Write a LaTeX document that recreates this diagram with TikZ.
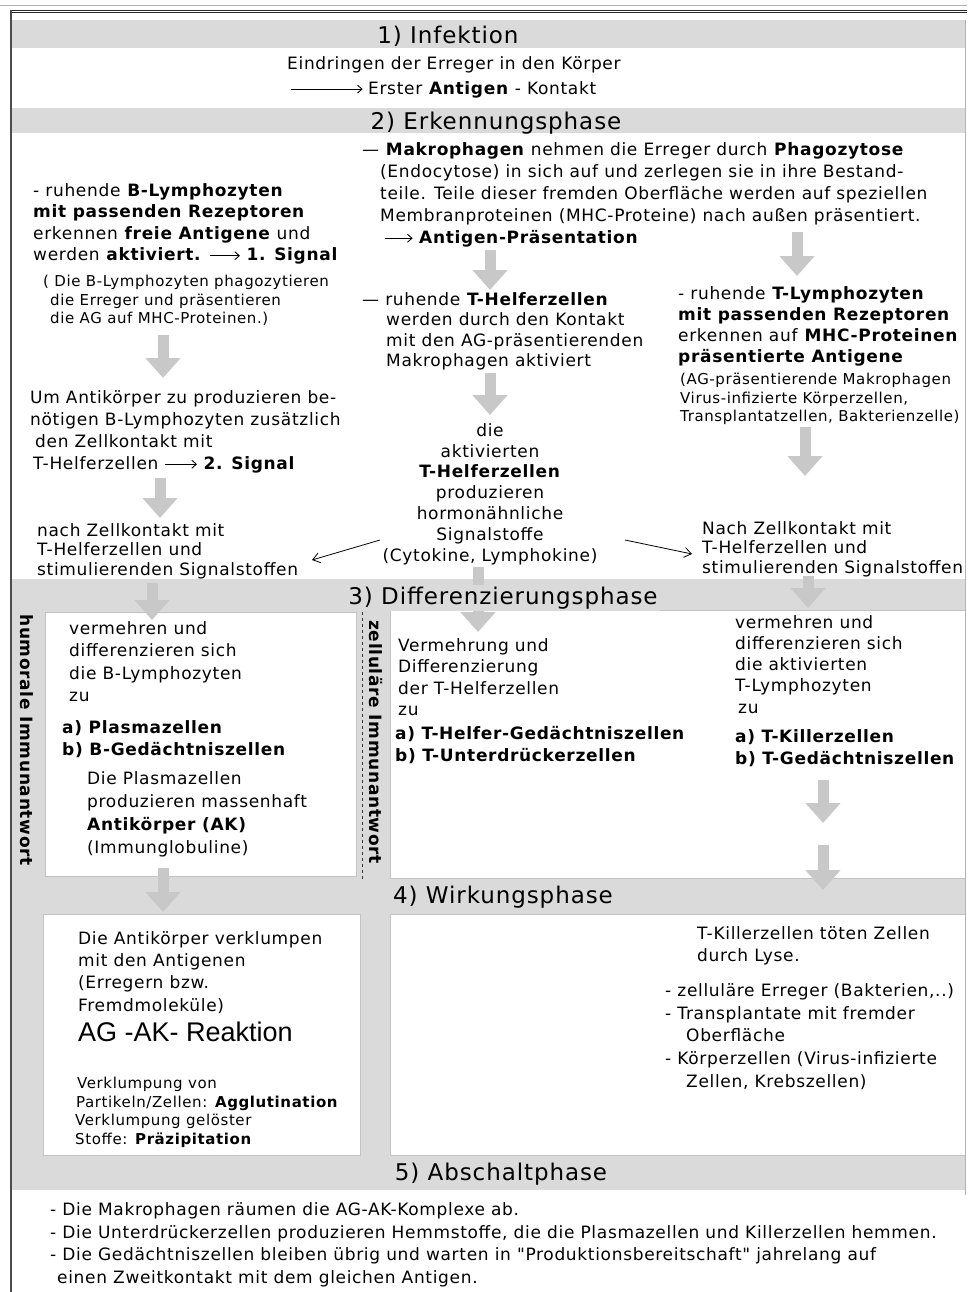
\documentclass[tikz,border=0pt]{standalone}
\usepackage{fontspec}
\setmainfont{DejaVu Sans}[LetterSpace=4,Ligatures=TeXOff]
\newfontfamily\arialf{Liberation Sans}
\usetikzlibrary{arrows.meta}
\definecolor{bandgray}{RGB}{218,218,218}
\definecolor{arrgray}{RGB}{200,200,200}
\definecolor{edgegray}{RGB}{195,195,195}
\newcommand\fz[2]{\fontsize{#1}{#2}\selectfont}
\newcommand\st{\rule{0pt}{0.95em}}
\newcommand\tar[1]{\tikz[baseline=-0.3em]\draw[line width=0.9pt,-{Straight Barb[length=4.5pt,width=8pt]}](0pt,0pt)--(#1,0pt);}
\begin{document}
\begin{tikzpicture}[x=1pt,y=-1pt,
  blk/.style={anchor=north west,inner sep=0pt,align=left},
  one/.style={anchor=base west,inner sep=0pt},
  hdr/.style={anchor=base,inner sep=0pt,font=\fz{23}{26}},
  garrow/.style={draw=arrgray,line width=11pt,-{Triangle[length=20pt,width=34pt]}},
  tarrow/.style={line width=0.8pt,-{Straight Barb[length=7pt,width=10pt]}},
  box/.style={fill=white,draw=edgegray,line width=0.6pt}]
\useasboundingbox (0,0) rectangle (967,1292);
\fill[white] (0,0) rectangle (967,1292);
% frame
\draw[gray!60,line width=0.8pt] (0,5)--(967,5);
\draw[black!85,line width=0.8pt] (11,10)--(967,10) (11,12.5)--(967,12.5);
\draw[black!70,line width=1.4pt] (11,10)--(11,1292);
% bands and boxes
\fill[bandgray] (12,20) rectangle (965,48);
\fill[bandgray] (12,108) rectangle (965,133);
\fill[bandgray] (12,579) rectangle (965,1190);
\draw[box] (45,612) rectangle (356,876);
\draw[box] (390,610) rectangle (965,878);
\draw[box] (43,914) rectangle (360,1155);
\draw[box] (390,914) rectangle (965,1155);
\draw[gray!60] (965,20)--(965,1195);
% gray block arrows
\coordinate (a1s) at (163,335); \coordinate (a1e) at (163,378);
\coordinate (a2s) at (160,478); \coordinate (a2e) at (160,518);
\coordinate (a3s) at (152,583); \coordinate (a3e) at (152,620);
\coordinate (a4s) at (490,250); \coordinate (a4e) at (490,290);
\coordinate (a5s) at (797,232); \coordinate (a5e) at (797,276);
\coordinate (a6s) at (490,373); \coordinate (a6e) at (490,415);
\coordinate (a7s) at (805,427); \coordinate (a7e) at (805,476);
\coordinate (a8s) at (478,567); \coordinate (a8e) at (478,632);
\coordinate (a9s) at (808,576); \coordinate (a9e) at (808,608);
\coordinate (a10s) at (823,780); \coordinate (a10e) at (823,823);
\coordinate (a11s) at (823,845); \coordinate (a11e) at (823,890);
\coordinate (a12s) at (163,868); \coordinate (a12e) at (163,912);
\foreach \i in {1,...,12} {\draw[garrow] (a\i s) -- (a\i e);}
% headers
\node[hdr] (h1) at (448,43.4) {1) Infektion};
\node[hdr] (h2) at (496,129.4) {2) Erkennungsphase};
\node[hdr,fill=bandgray,inner xsep=2pt,inner ysep=2pt] (h3) at (503,604.4) {3) Differenzierungsphase};
\node[hdr] (h4) at (503,903.4) {4) Wirkungsphase};
\node[hdr] (h5) at (501,1180.4) {5) Abschaltphase};
% section 1
\node[one,font=\fz{17}{21}] (t1a) at (287,69.2) {Eindringen der Erreger in den Körper};
\node[one,font=\fz{17}{21}] (t1b) at (290,94.2) {\tar{72pt}\hspace{5pt}Erster \textbf{Antigen} - Kontakt};
% section 2 left
\node[blk,font=\fz{17}{21.5}] (L1) at (33,180) {\st- ruhende \textbf{B-Lymphozyten}\\\textbf{mit passenden Rezeptoren}\\erkennen \textbf{freie Antigene} und\\werden \textbf{aktiviert.} \tar{30pt} \textbf{1. Signal}};
\node[blk,font=\fz{15}{18.5}] (L2) at (43,272.2) {\st( Die B-Lymphozyten phagozytieren\\\hspace*{7pt}die Erreger und präsentieren\\\hspace*{7pt}die AG auf MHC-Proteinen.)};
\node[blk,font=\fz{17}{22}] (L3) at (30,387) {\st Um Antikörper zu produzieren be-\\nötigen B-Lymphozyten zusätzlich\\\hspace*{5pt}den Zellkontakt mit\\\hspace*{3pt}T-Helferzellen \tar{32pt} \textbf{2. Signal}};
\node[blk,font=\fz{17}{19.5}] (L4) at (37,520) {\st nach Zellkontakt mit\\T-Helferzellen und\\stimulierenden Signalstoffen};
% section 2 middle
\node[blk,font=\fz{17}{22}] (M1) at (362,139) {\st— \textbf{Makrophagen} nehmen die Erreger durch \textbf{Phagozytose}\\\hspace*{18pt}(Endocytose) in sich auf und zerlegen sie in ihre Bestand-\\\hspace*{18pt}teile. Teile dieser fremden Oberfläche werden auf speziellen\\\hspace*{18pt}Membranproteinen (MHC-Proteine) nach außen präsentiert.\\\hspace*{22pt}\tar{28pt} \textbf{Antigen-Präsentation}};
\node[blk,font=\fz{17}{20.5}] (M2) at (362,289) {\st— ruhende \textbf{T-Helferzellen}\\\hspace*{24pt}werden durch den Kontakt\\\hspace*{24pt}mit den AG-präsentierenden\\\hspace*{24pt}Makrophagen aktiviert};
\node[anchor=north,inner sep=0pt,align=center,font=\fz{17}{20.8}] (M3) at (490,420) {\st die\\aktivierten\\\textbf{T-Helferzellen}\\produzieren\\hormonähnliche\\Signalstoffe\\(Cytokine, Lymphokine)};
% section 2 right
\node[blk,font=\fz{17}{21}] (R1) at (678,283) {\st- ruhende \textbf{T-Lymphozyten}\\\textbf{mit passenden Rezeptoren}\\erkennen auf \textbf{MHC-Proteinen}\\\textbf{präsentierte Antigene}};
\node[blk,font=\fz{15}{18.5}] (R2) at (680,370.2) {\st(AG-präsentierende Makrophagen\\Virus-infizierte Körperzellen,\\Transplantatzellen, Bakterienzelle)};
\node[blk,font=\fz{17}{19.5}] (R3) at (702,518) {\st Nach Zellkontakt mit\\T-Helferzellen und\\stimulierenden Signalstoffen};
% section 3
\node[blk,font=\fz{17}{22.5}] (A1) at (69,618) {\st vermehren und\\differenzieren sich\\die B-Lymphozyten\\zu};
\node[blk,font=\fz{17}{22}\bfseries] (A2) at (62,717) {\st a) Plasmazellen\\b) B-Gedächtniszellen};
\node[blk,font=\fz{17}{23}] (A3) at (87,768) {\st Die Plasmazellen\\produzieren massenhaft\\\textbf{Antikörper (AK)}\\(Immunglobuline)};
\node[rotate=-90,inner sep=0pt,font=\fz{17}{20}\bfseries] (vh) at (27,740) {humorale Immunantwort};
\node[rotate=-90,inner sep=0pt,font=\fz{17}{20}\bfseries] (vz) at (376,742) {zelluläre Immunantwort};
\draw[dashed,black!80,line width=0.8pt] (362,612)--(362,880);
\node[blk,font=\fz{17}{21.5}] (B1) at (398,635) {\st Vermehrung und\\Differenzierung\\der T-Helferzellen\\zu};
\node[blk,font=\fz{17}{22}\bfseries] (B2) at (395,723) {\st a) T-Helfer-Gedächtniszellen\\b) T-Unterdrückerzellen};
\node[blk,font=\fz{17}{21.2}] (C1) at (735,612) {\st vermehren und\\differenzieren sich\\die aktivierten\\T-Lymphozyten\\\hspace*{3pt}zu};
\node[blk,font=\fz{17}{22}\bfseries] (C2) at (735,726) {\st a) T-Killerzellen\\b) T-Gedächtniszellen};
% section 4
\node[blk,font=\fz{17}{22.3}] (D1) at (78,928) {\st Die Antikörper verklumpen\\mit den Antigenen\\(Erregern bzw.\\Fremdmoleküle)};
\node[one,font=\arialf\fz{27}{30}] (D2) at (78,1041.7) {AG -AK- Reaktion};
\node[blk,font=\fz{15}{18.7}] (D3) at (75,1074) {\st\hspace*{2pt}Verklumpung von\\\hspace*{1pt}Partikeln/Zellen: \textbf{Agglutination}\\Verklumpung gelöster\\Stoffe: \textbf{Präzipitation}};
\node[blk,font=\fz{17}{22}] (E1) at (697,923) {\st T-Killerzellen töten Zellen\\durch Lyse.};
\node[blk,font=\fz{17}{22.8}] (E2) at (665,980) {\st- zelluläre Erreger (Bakterien,..)\\- Transplantate mit fremder\\\hspace*{21pt}Oberfläche\\- Körperzellen (Virus-infizierte\\\hspace*{21pt}Zellen, Krebszellen)};
% section 5
\node[blk,font=\fz{17}{22.7}] (F1) at (50,1199) {\st- Die Makrophagen räumen die AG-AK-Komplexe ab.\\- Die Unterdrückerzellen produzieren Hemmstoffe, die die Plasmazellen und Killerzellen hemmen.\\- Die Gedächtniszellen bleiben übrig und warten in "Produktionsbereitschaft" jahrelang auf\\\hspace*{7pt}einen Zweitkontakt mit dem gleichen Antigen.};
% thin arrows
\coordinate (m3l) at (380,540); \coordinate (l4e) at (312,560);
\coordinate (m3r) at (625,540); \coordinate (r3e) at (692,554);
\draw[tarrow] (m3l) -- (l4e);
\draw[tarrow] (m3r) -- (r3e);
\end{tikzpicture}
\end{document}
